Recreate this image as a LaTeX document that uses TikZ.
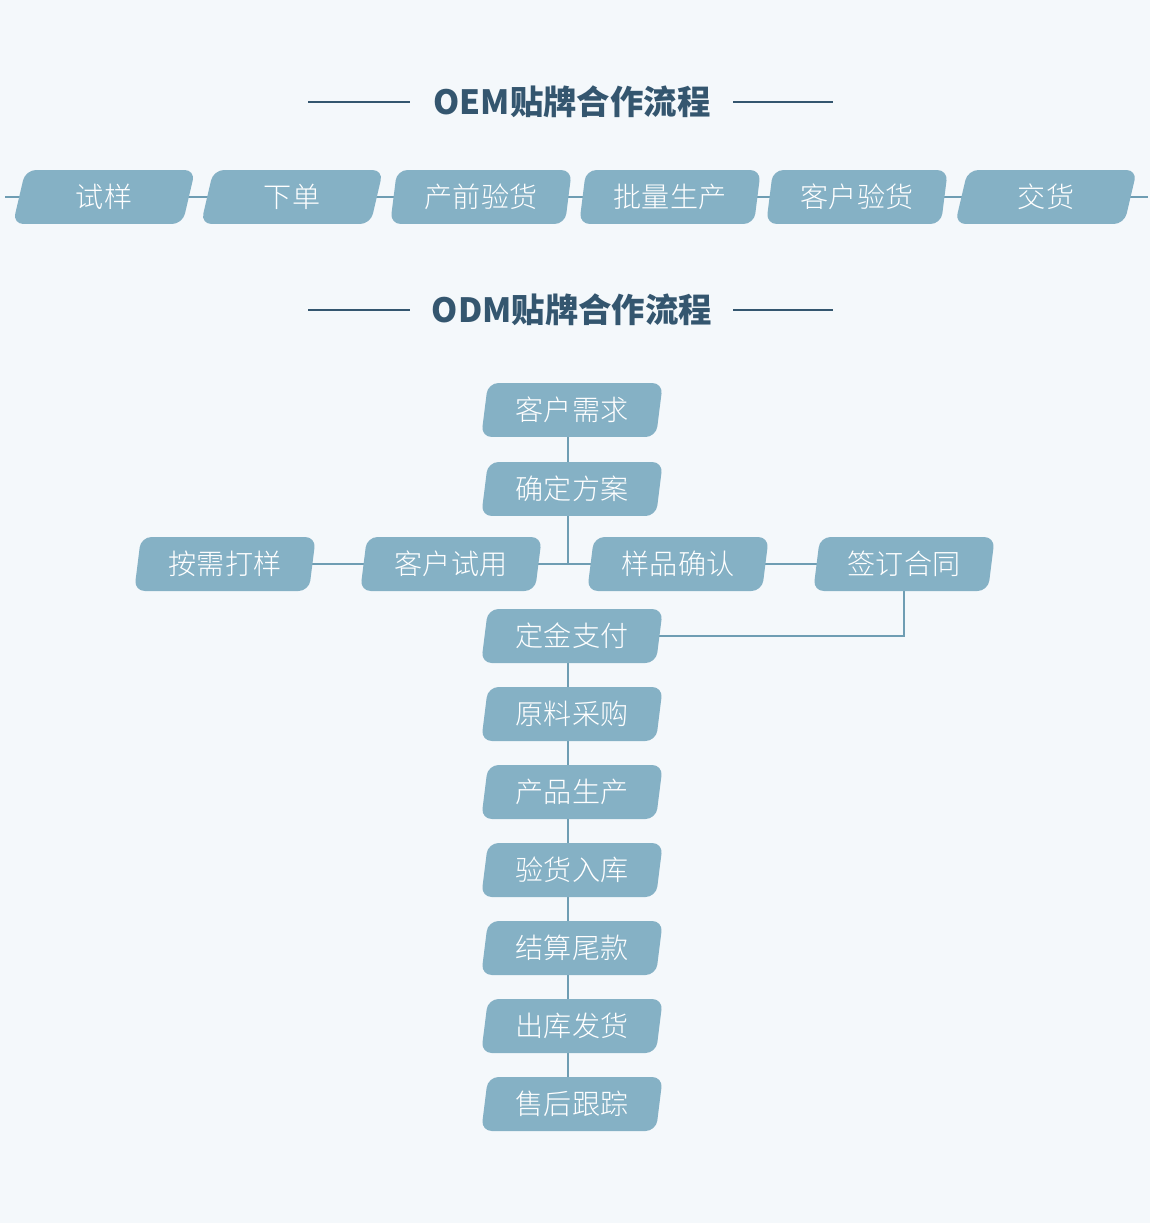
\documentclass[tikz,border=0pt]{standalone}
\usepackage{fontspec}
\setmainfont{Noto Sans CJK SC Light}
\newfontfamily\titlefont{Noto Sans CJK SC Black}
\usetikzlibrary{shapes.geometric}
\definecolor{bgc}{HTML}{F4F8FB}
\definecolor{boxc}{HTML}{85B1C5}
\definecolor{titlec}{HTML}{34566F}
\definecolor{linec}{HTML}{6E9DB3}
\begin{document}
\begin{tikzpicture}[x=0.02cm,y=-0.02cm,
        flowbox/.style={trapezium, trapezium left angle=80, trapezium right angle=100,
            trapezium stretches=true, minimum width=3.65cm, minimum height=1.08cm,
            rounded corners=6pt, fill=boxc, text=white, inner sep=0pt,
            font=\fontsize{16pt}{18pt}\selectfont},
        titletext/.style={text=titlec, font=\titlefont\fontsize{19pt}{21pt}\selectfont},
        link/.style={draw=linec, line width=0.8pt}]
    \fill[bgc] (0,0) rectangle (1150,1223);
    % OEM
    \node[titletext] (t1) at (572,102) {OEM贴牌合作流程};
    \draw[titlec, line width=0.8pt] (308,102) -- (410,102) (733,102) -- (833,102);
    \coordinate (l0) at (5,197);
    \coordinate (l7) at (1148,197);
    \draw[link] (l0) -- (l7);
    \foreach \x/\n/\txt in {104/a1/试样, 292/a2/下单, 481/a3/产前验货, 670/a4/批量生产,
        857/a5/客户验货, 1046/a6/交货}
        \node[flowbox] (\n) at (\x,197) {\txt};
    % ODM
    \node[titletext] (t2) at (572,310) {ODM贴牌合作流程};
    \draw[titlec, line width=0.8pt] (308,310) -- (410,310) (733,310) -- (833,310);
    \coordinate (hub) at (568,564);
    \draw[link] (568,410) -- (hub);
    \draw[link] (568,636) -- (568,1104);
    \draw[link] (225,564) -- (904,564) -- (904,636) -- (568,636);
    \foreach \y/\n/\txt in {410/b1/客户需求, 489/b2/确定方案, 636/b3/定金支付, 714/b4/原料采购,
        792/b5/产品生产, 870/b6/验货入库, 948/b7/结算尾款, 1026/b8/出库发货, 1104/b9/售后跟踪}
        \node[flowbox] (\n) at (572,\y) {\txt};
    \foreach \x/\n/\txt in {225/c1/按需打样, 451/c2/客户试用, 678/c3/样品确认, 904/c4/签订合同}
        \node[flowbox] (\n) at (\x,564) {\txt};
\end{tikzpicture}
\end{document}
